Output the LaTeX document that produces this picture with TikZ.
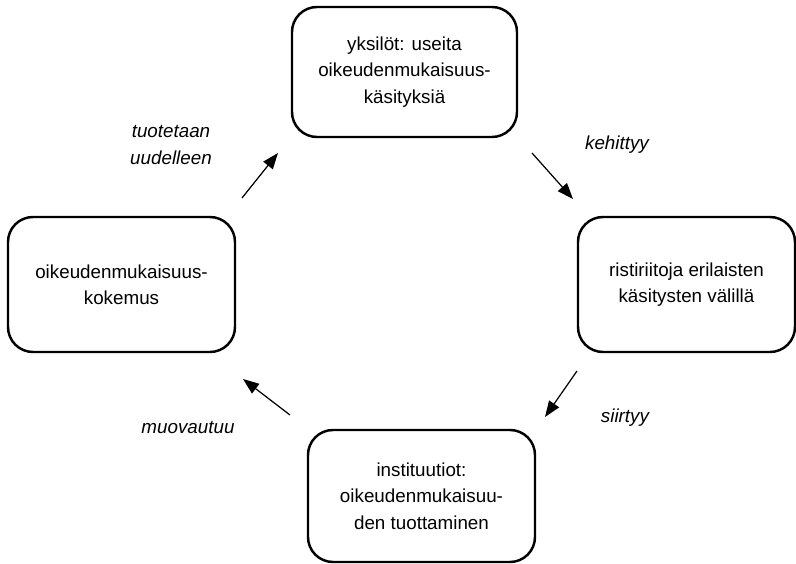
\documentclass[tikz,border=0pt]{standalone}
\usepackage{fontspec}
\setmainfont{Liberation Sans}
\usetikzlibrary{arrows.meta}
\begin{document}
\begin{tikzpicture}[x=0.02cm,y=-0.02cm,
  main node/.style={rectangle,rounded corners=0.5cm,draw,line width=1.4pt,align=center,
    font=\fontsize{10.7}{15}\selectfont,inner sep=0pt},
  verb/.style={font=\fontsize{10.7}{15}\selectfont\itshape,align=center}]
  \useasboundingbox (0,0) rectangle (796,564);
  \node[main node,minimum width=225*0.02cm,minimum height=130*0.02cm] (yksilot) at (404.5,72) {yksilöt: useita\\oikeudenmukaisuus-\\käsityksiä};
  \node[main node,minimum width=217*0.02cm,minimum height=135*0.02cm] (ristiriidat) at (686.5,284.5) {ristiriitoja erilaisten\\käsitysten välillä};
  \node[main node,minimum width=227*0.02cm,minimum height=132*0.02cm] (instituutiot) at (421.5,496) {instituutiot:\\oikeudenmukaisuu-\\den tuottaminen};
  \node[main node,minimum width=227*0.02cm,minimum height=135*0.02cm] (kokemus) at (121.5,284.5) {oikeudenmukaisuus-\\kokemus};

  \coordinate (1a) at (242,198);
  \coordinate (1b) at (278,153);
  \coordinate (2a) at (532,153);
  \coordinate (2b) at (573,199);
  \coordinate (3a) at (577,371);
  \coordinate (3b) at (545,417);
  \coordinate (4a) at (290,415);
  \coordinate (4b) at (243,379);

  \node[verb] (tuotetaan) at (171,145) {tuotetaan\\uudelleen};
  \node[verb] (kehittyy) at (617,145) {kehittyy};
  \node[verb] (siirtyy) at (625,418) {siirtyy};
  \node[verb] (muovautuu) at (188,428) {muovautuu};

  \path[line width=0.7pt,-{Triangle[length=0.32cm,width=0.24cm]}]
   (1a) edge (1b)
   (2a) edge (2b)
   (3a) edge (3b)
   (4a) edge (4b);
\end{tikzpicture}
\end{document}
